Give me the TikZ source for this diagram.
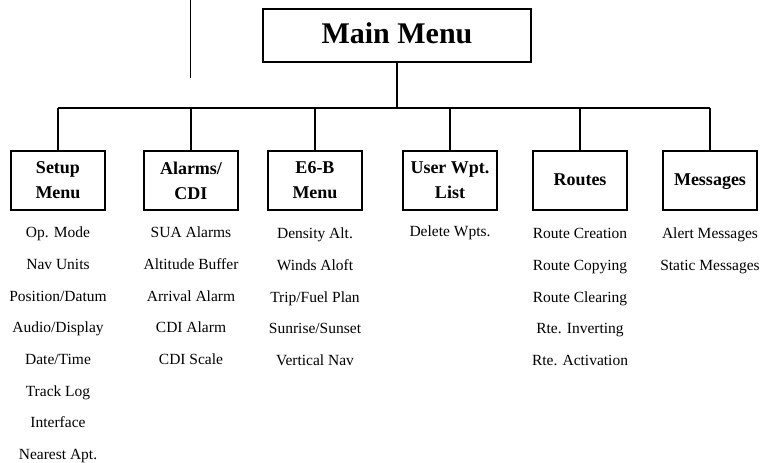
\documentclass[tikz,border=0pt]{standalone}
\usepackage{fontspec}
\setmainfont{Liberation Serif}
\usetikzlibrary{positioning}

\tikzset{
  menubox/.style={draw,line width=1.2pt,inner sep=0pt,minimum width=94pt,minimum height=59pt,
    align=center,font=\fontsize{18}{25}\selectfont\bfseries},
  onebox/.style={menubox,text height=13pt,text depth=4pt},
  topbox/.style={draw,line width=1.2pt,inner sep=0pt,minimum width=268pt,minimum height=53pt,
    text height=21pt,text depth=6pt,font=\fontsize{30}{32}\selectfont\bfseries},
  item/.style={inner sep=0pt,text height=11pt,text depth=3.5pt,font=\fontsize{15.5}{17}\selectfont},
  branch/.style={line width=1.9pt},
}

\begin{document}
\begin{tikzpicture}[x=1pt,y=-1pt]
\useasboundingbox (0,0) rectangle (764,463);
\coordinate (bus) at (0,108);
\coordinate (mark) at (190,0);
\draw[line width=1pt] (mark) -- ++(0,78);
% top of the tree
\node[topbox] (main) at (397,35.5) {Main Menu};
\node[menubox] (setup) at (58,180.5) {Setup\\Menu};
\node[menubox] (alarms) at (191,180.5) {Alarms/\\CDI};
\node[menubox] (esixb) at (315,180.5) {E6-B\\Menu};
\node[menubox] (userwpt) at (450,180.5) {User Wpt.\\List};
\node[onebox] (routes) at (580,180.5) {Routes};
\node[onebox] (msgs) at (710,180.5) {Messages};
% connectors
\draw[line width=1.3pt] (main.south) -- (main.south |- bus);
\draw[branch] (setup.north |- bus) -- (msgs.north |- bus);
\draw[branch] (setup.north) -- (setup.north |- bus);
\draw[branch] (alarms.north) -- (alarms.north |- bus);
\draw[branch] (esixb.north) -- (esixb.north |- bus);
\draw[branch] (userwpt.north) -- (userwpt.north |- bus);
\draw[branch] (routes.north) -- (routes.north |- bus);
\draw[branch] (msgs.north) -- (msgs.north |- bus);
% Setup Menu
\node[item] (s1) at (58,234) {Op. Mode};
\node[item] (s2) at (58,265.7) {Nav Units};
\node[item] (s3) at (58,297.4) {Position/Datum};
\node[item] (s4) at (58,329.1) {Audio/Display};
\node[item] (s5) at (58,360.8) {Date/Time};
\node[item] (s6) at (58,392.5) {Track Log};
\node[item] (s7) at (58,424.2) {Interface};
\node[item] (s8) at (58,455.9) {Nearest Apt.};
% Alarms/CDI
\node[item] (a1) at (191,234) {SUA Alarms};
\node[item] (a2) at (191,265.7) {Altitude Buffer};
\node[item] (a3) at (191,297.4) {Arrival Alarm};
\node[item] (a4) at (191,329.1) {CDI Alarm};
\node[item] (a5) at (191,360.8) {CDI Scale};
% E6-B Menu
\node[item] (e1) at (315,235) {Density Alt.};
\node[item] (e2) at (315,266.7) {Winds Aloft};
\node[item] (e3) at (315,298.4) {Trip/Fuel Plan};
\node[item] (e4) at (315,330.1) {Sunrise/Sunset};
\node[item] (e5) at (315,361.8) {Vertical Nav};
% User Wpt. List
\node[item] (u1) at (450,233) {Delete Wpts.};
% Routes
\node[item] (r1) at (580,235) {Route Creation};
\node[item] (r2) at (580,266.7) {Route Copying};
\node[item] (r3) at (580,298.4) {Route Clearing};
\node[item] (r4) at (580,330.1) {Rte. Inverting};
\node[item] (r5) at (580,361.8) {Rte. Activation};
% Messages
\node[item] (m1) at (710,235) {Alert Messages};
\node[item] (m2) at (710,266.7) {Static Messages};
\end{tikzpicture}
\end{document}
